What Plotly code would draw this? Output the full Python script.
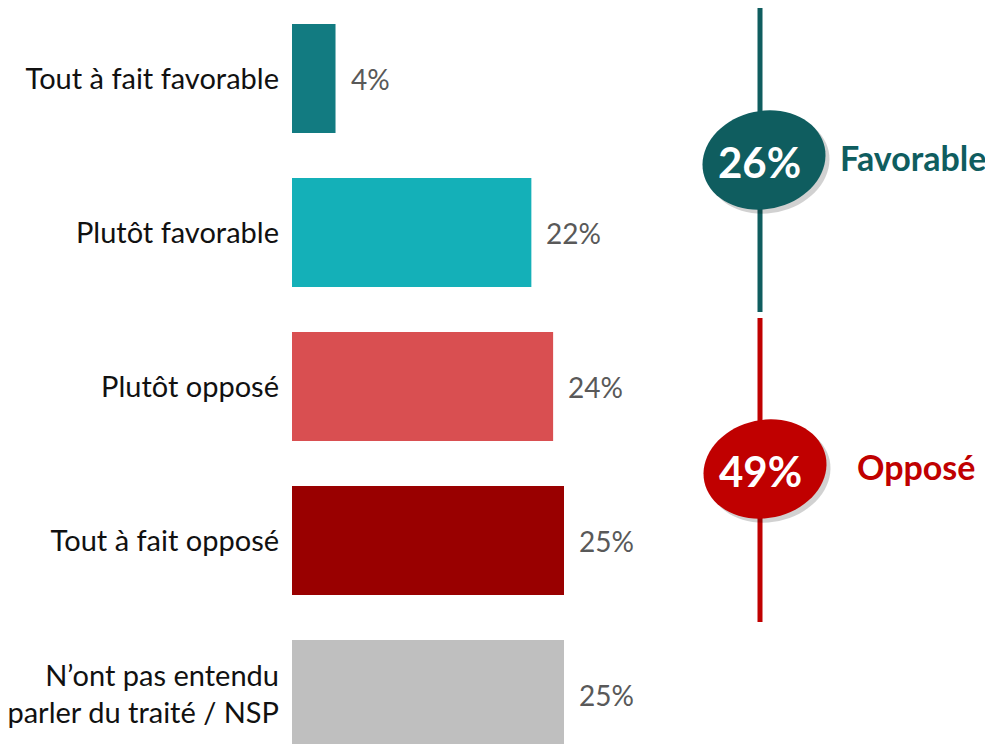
import numpy as np
import plotly.graph_objects as go

categories = ["Tout à fait favorable", "Plutôt favorable", "Plutôt opposé",
              "Tout à fait opposé", "N’ont pas entendu<br>parler du traité / NSP"]
values = [4, 22, 24, 25, 25]
bar_colors = ["#127b81", "#14b0b8", "#d94f51", "#990000", "#bfbfbf"]

group_names = ["Favorable", "Opposé"]
group_values = [values[0] + values[1], values[2] + values[3]]
group_colors = ["#0f5d5f", "#c00000"]

OFF = 8  # page body margin offset
W, H = 993 - OFF, 744 - OFF
PX_PER_PCT = 10.88
X0 = 292 - OFF

fig = go.Figure()
fig.add_trace(go.Bar(
    y=list(range(len(categories))), x=values, orientation="h",
    marker=dict(color=bar_colors, line=dict(width=0)),
    hoverinfo="skip", showlegend=False,
))

annotations = []
for i, v in enumerate(values):
    annotations.append(dict(
        x=v, y=i, xref="x", yref="y", text=f"{v}%", showarrow=False,
        xanchor="left", xshift=13, font=dict(family="Lato", size=28, color="#595959"),
    ))


def px(x):
    return (x - OFF) / W


def py(y):
    return 1 - (y - OFF) / H


def ellipse_path(cx, cy, rx, ry, ang_deg, n=72):
    t = np.linspace(0, 2 * np.pi, n, endpoint=False)
    a = np.deg2rad(ang_deg)
    xs = cx + rx * np.cos(t) * np.cos(a) - ry * np.sin(t) * np.sin(a)
    ys = cy + rx * np.cos(t) * np.sin(a) + ry * np.sin(t) * np.cos(a)
    pts = [(px(x), py(y)) for x, y in zip(xs, ys)]
    return "M " + " L ".join(f"{x:.5f},{y:.5f}" for x, y in pts) + " Z"


shapes = []
line_x = 760
segments = [(8, 312), (318, 622)]
ell_centers = [(764, 160), (765, 469)]
label_x = [838, 855]
for k in range(2):
    y0, y1 = segments[k]
    shapes.append(dict(type="line", xref="paper", yref="paper",
                       x0=px(line_x), x1=px(line_x), y0=py(y0), y1=py(y1),
                       line=dict(color=group_colors[k], width=5)))
    cx, cy = ell_centers[k]
    shapes.append(dict(type="path", xref="paper", yref="paper",
                       path=ellipse_path(cx + 4, cy + 4, 62, 49, -12),
                       fillcolor="rgba(0,0,0,0.18)", line=dict(width=0)))
    shapes.append(dict(type="path", xref="paper", yref="paper",
                       path=ellipse_path(cx, cy, 62, 49, -12),
                       fillcolor=group_colors[k], line=dict(width=0)))
    annotations.append(dict(x=px(cx - 5), y=py(cy + 2), xref="paper", yref="paper",
                            text=f"<b>{group_values[k]}%</b>", showarrow=False,
                            xanchor="center", yanchor="middle",
                            font=dict(family="Lato", size=42, color="white")))
    annotations.append(dict(x=px(label_x[k]), y=py(cy - 3), xref="paper", yref="paper",
                            text=f"<b>{group_names[k]}</b>", showarrow=False,
                            xanchor="left", yanchor="middle",
                            font=dict(family="Lato", size=34, color=group_colors[k])))

y_top = -(78.5 - OFF) / 154
y_bot = y_top + H / 154

fig.update_layout(
    width=W, height=H,
    margin=dict(l=0, r=0, t=0, b=0),
    paper_bgcolor="white", plot_bgcolor="white",
    bargap=1 - 109 / 154,
    xaxis=dict(domain=[X0 / W, 1], range=[0, (W - X0) / PX_PER_PCT],
               showgrid=False, zeroline=False, showticklabels=False, showline=False),
    yaxis=dict(range=[y_bot, y_top], tickmode="array",
               tickvals=list(range(len(categories))), ticktext=categories,
               showgrid=False, zeroline=False, showline=False, ticks="",
               ticklabelstandoff=12,
               tickfont=dict(family="Lato", size=29, color="#111111")),
    shapes=shapes, annotations=annotations,
    font=dict(family="Lato"),
)

fig.write_html("out.html")
